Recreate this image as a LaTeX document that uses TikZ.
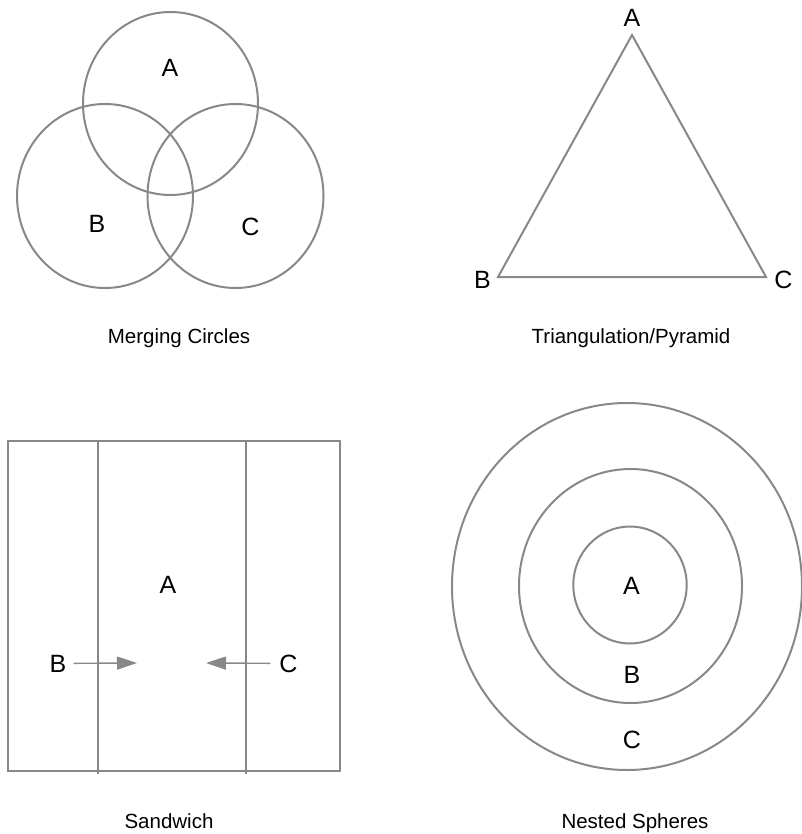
\documentclass[tikz,border=0pt]{standalone}
\usepackage{fontspec}
\setmainfont{Liberation Sans}
\usepackage{tikz}
\usetikzlibrary{arrows.meta}
\definecolor{LineGray}{RGB}{136, 136, 136}

\begin{document}
\begin{tikzpicture}[
        x=1pt, y=-1pt,
        outline/.style={
          draw=LineGray,
          line width=2pt
        },
        letter/.style={
          inner sep=0pt,
          anchor=base,
          font=\fontsize{25}{30}\selectfont
        },
        caption/.style={
          inner sep=0pt,
          anchor=base,
          font=\fontsize{20.5}{24}\selectfont
        },
        pointer/.style={
          draw=LineGray,
          line width=1.4pt,
          -{Triangle[length=20pt, width=13pt]},
          shorten <=7pt
        }
      ]
        \useasboundingbox (0, 0) rectangle (801, 834);

        % merging circles
        \draw[outline] (170.5, 103.5) ellipse [x radius=87.5, y radius=91.5];
        \draw[outline] (105, 196) ellipse [x radius=88, y radius=92];
        \draw[outline] (235.5, 196) ellipse [x radius=88, y radius=92];
        \node (mA) at (170, 77)   [letter] {A};
        \node (mB) at (97, 233)   [letter] {B};
        \node (mC) at (250.5, 235) [letter] {C};
        \node (mcap) at (179, 343) [caption] {Merging Circles};

        % triangulation
        \coordinate (tA) at (632, 35);
        \coordinate (tB) at (498, 277);
        \coordinate (tC) at (766, 277);
        \draw[outline, line join=miter] (tA) -- (tB) -- (tC) -- cycle;
        \node (tlA) at (632, 27)   [letter] {A};
        \node (tlB) at (482.5, 288) [letter] {B};
        \node (tlC) at (783.5, 288) [letter] {C};
        \node (tcap) at (631, 343) [caption] {Triangulation/Pyramid};

        % sandwich
        \draw[outline] (8, 441) rectangle (340, 771);
        \draw[outline] (98, 441) -- (98, 774);
        \draw[outline] (246, 441) -- (246, 774);
        \node (sA) at (168, 593)   [letter] {A};
        \node (sB) at (58, 672)    [letter] {B};
        \node (sC) at (288.5, 672) [letter] {C};
        \coordinate (tipB) at (137, 663);
        \coordinate (tipC) at (206, 663);
        \draw[pointer] (sB) -- (tipB);
        \draw[pointer, shorten <=9pt] (sC) -- (tipC);
        \node (scap) at (169, 828) [caption] {Sandwich};

        % nested spheres
        \draw[outline] (630, 585) ellipse [x radius=56.7, y radius=58.5];
        \draw[outline] (630.5, 586) ellipse [x radius=111.5, y radius=117];
        \draw[outline] (627, 586.5) ellipse [x radius=175, y radius=183.5];
        \node (nA) at (631.5, 594) [letter] {A};
        \node (nB) at (632, 683)   [letter] {B};
        \node (nC) at (632, 748)   [letter] {C};
        \node (ncap) at (635, 828) [caption] {Nested Spheres};
      \end{tikzpicture}
\end{document}
